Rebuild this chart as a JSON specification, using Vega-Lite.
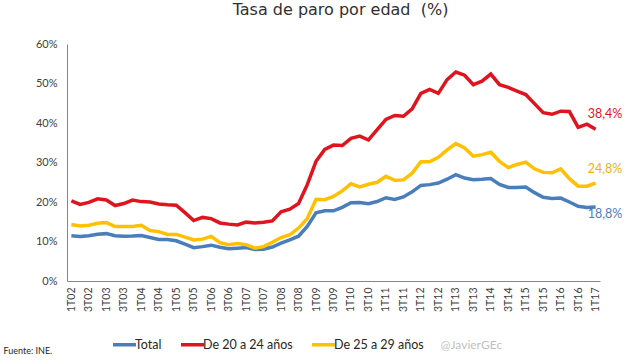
{
"$schema": "https://vega.github.io/schema/vega-lite/v6.json",
"width": 533, "height": 237,
"autosize": {"type": "none"},
"padding": {"left": 67, "top": 44, "right": 28, "bottom": 83},
"background": "white",
"title": {"text": "Tasa de paro por edad \u00a0(%)", "fontSize": 16, "font": "DejaVu Sans", "fontWeight": "normal", "color": "#303030", "anchor": "middle", "frame": "group", "dx": 7, "offset": 20},
"config": {"view": {"stroke": null}, "font": "Lato"},
"data": {"values": [
{"t":"1T02","s":"Total","v":11.45},{"t":"2T02","s":"Total","v":11.28},{"t":"3T02","s":"Total","v":11.44},{"t":"4T02","s":"Total","v":11.82},
{"t":"1T03","s":"Total","v":11.99},{"t":"2T03","s":"Total","v":11.47},{"t":"3T03","s":"Total","v":11.31},{"t":"4T03","s":"Total","v":11.37},
{"t":"1T04","s":"Total","v":11.5},{"t":"2T04","s":"Total","v":11.02},{"t":"3T04","s":"Total","v":10.5},{"t":"4T04","s":"Total","v":10.53},
{"t":"1T05","s":"Total","v":10.19},{"t":"2T05","s":"Total","v":9.33},{"t":"3T05","s":"Total","v":8.42},{"t":"4T05","s":"Total","v":8.7},
{"t":"1T06","s":"Total","v":9.07},{"t":"2T06","s":"Total","v":8.53},{"t":"3T06","s":"Total","v":8.16},{"t":"4T06","s":"Total","v":8.3},
{"t":"1T07","s":"Total","v":8.47},{"t":"2T07","s":"Total","v":7.95},{"t":"3T07","s":"Total","v":8.03},{"t":"4T07","s":"Total","v":8.6},
{"t":"1T08","s":"Total","v":9.6},{"t":"2T08","s":"Total","v":10.44},{"t":"3T08","s":"Total","v":11.33},{"t":"4T08","s":"Total","v":13.79},
{"t":"1T09","s":"Total","v":17.24},{"t":"2T09","s":"Total","v":17.77},{"t":"3T09","s":"Total","v":17.77},{"t":"4T09","s":"Total","v":18.66},
{"t":"1T10","s":"Total","v":19.84},{"t":"2T10","s":"Total","v":19.89},{"t":"3T10","s":"Total","v":19.59},{"t":"4T10","s":"Total","v":20.11},
{"t":"1T11","s":"Total","v":21.08},{"t":"2T11","s":"Total","v":20.64},{"t":"3T11","s":"Total","v":21.28},{"t":"4T11","s":"Total","v":22.56},
{"t":"1T12","s":"Total","v":24.19},{"t":"2T12","s":"Total","v":24.4},{"t":"3T12","s":"Total","v":24.79},{"t":"4T12","s":"Total","v":25.77},
{"t":"1T13","s":"Total","v":26.94},{"t":"2T13","s":"Total","v":26.06},{"t":"3T13","s":"Total","v":25.65},{"t":"4T13","s":"Total","v":25.73},
{"t":"1T14","s":"Total","v":25.93},{"t":"2T14","s":"Total","v":24.47},{"t":"3T14","s":"Total","v":23.67},{"t":"4T14","s":"Total","v":23.7},
{"t":"1T15","s":"Total","v":23.78},{"t":"2T15","s":"Total","v":22.37},{"t":"3T15","s":"Total","v":21.18},{"t":"4T15","s":"Total","v":20.9},
{"t":"1T16","s":"Total","v":21.0},{"t":"2T16","s":"Total","v":20.0},{"t":"3T16","s":"Total","v":18.91},{"t":"4T16","s":"Total","v":18.63},
{"t":"1T17","s":"Total","v":18.75},
{"t":"1T02","s":"De 20 a 24 años","v":20.3},{"t":"2T02","s":"De 20 a 24 años","v":19.4},{"t":"3T02","s":"De 20 a 24 años","v":19.9},{"t":"4T02","s":"De 20 a 24 años","v":20.8},
{"t":"1T03","s":"De 20 a 24 años","v":20.5},{"t":"2T03","s":"De 20 a 24 años","v":19.1},{"t":"3T03","s":"De 20 a 24 años","v":19.6},{"t":"4T03","s":"De 20 a 24 años","v":20.5},
{"t":"1T04","s":"De 20 a 24 años","v":20.1},{"t":"2T04","s":"De 20 a 24 años","v":20.0},{"t":"3T04","s":"De 20 a 24 años","v":19.5},{"t":"4T04","s":"De 20 a 24 años","v":19.3},
{"t":"1T05","s":"De 20 a 24 años","v":19.2},{"t":"2T05","s":"De 20 a 24 años","v":17.3},{"t":"3T05","s":"De 20 a 24 años","v":15.3},{"t":"4T05","s":"De 20 a 24 años","v":16.1},
{"t":"1T06","s":"De 20 a 24 años","v":15.8},{"t":"2T06","s":"De 20 a 24 años","v":14.7},{"t":"3T06","s":"De 20 a 24 años","v":14.4},{"t":"4T06","s":"De 20 a 24 años","v":14.2},
{"t":"1T07","s":"De 20 a 24 años","v":14.9},{"t":"2T07","s":"De 20 a 24 años","v":14.7},{"t":"3T07","s":"De 20 a 24 años","v":14.9},{"t":"4T07","s":"De 20 a 24 años","v":15.2},
{"t":"1T08","s":"De 20 a 24 años","v":17.5},{"t":"2T08","s":"De 20 a 24 años","v":18.2},{"t":"3T08","s":"De 20 a 24 años","v":19.6},{"t":"4T08","s":"De 20 a 24 años","v":24.4},
{"t":"1T09","s":"De 20 a 24 años","v":30.3},{"t":"2T09","s":"De 20 a 24 años","v":33.3},{"t":"3T09","s":"De 20 a 24 años","v":34.4},{"t":"4T09","s":"De 20 a 24 años","v":34.3},
{"t":"1T10","s":"De 20 a 24 años","v":36.1},{"t":"2T10","s":"De 20 a 24 años","v":36.7},{"t":"3T10","s":"De 20 a 24 años","v":35.7},{"t":"4T10","s":"De 20 a 24 años","v":38.3},
{"t":"1T11","s":"De 20 a 24 años","v":40.9},{"t":"2T11","s":"De 20 a 24 años","v":41.9},{"t":"3T11","s":"De 20 a 24 años","v":41.7},{"t":"4T11","s":"De 20 a 24 años","v":43.6},
{"t":"1T12","s":"De 20 a 24 años","v":47.5},{"t":"2T12","s":"De 20 a 24 años","v":48.5},{"t":"3T12","s":"De 20 a 24 años","v":47.5},{"t":"4T12","s":"De 20 a 24 años","v":51.0},
{"t":"1T13","s":"De 20 a 24 años","v":52.9},{"t":"2T13","s":"De 20 a 24 años","v":52.1},{"t":"3T13","s":"De 20 a 24 años","v":49.7},{"t":"4T13","s":"De 20 a 24 años","v":50.6},
{"t":"1T14","s":"De 20 a 24 años","v":52.4},{"t":"2T14","s":"De 20 a 24 años","v":49.7},{"t":"3T14","s":"De 20 a 24 años","v":49.0},{"t":"4T14","s":"De 20 a 24 años","v":48.1},
{"t":"1T15","s":"De 20 a 24 años","v":47.2},{"t":"2T15","s":"De 20 a 24 años","v":44.9},{"t":"3T15","s":"De 20 a 24 años","v":42.6},{"t":"4T15","s":"De 20 a 24 años","v":42.2},
{"t":"1T16","s":"De 20 a 24 años","v":43.0},{"t":"2T16","s":"De 20 a 24 años","v":42.9},{"t":"3T16","s":"De 20 a 24 años","v":38.9},{"t":"4T16","s":"De 20 a 24 años","v":39.7},
{"t":"1T17","s":"De 20 a 24 años","v":38.4},
{"t":"1T02","s":"De 25 a 29 años","v":14.3},{"t":"2T02","s":"De 25 a 29 años","v":13.9},{"t":"3T02","s":"De 25 a 29 años","v":14.1},{"t":"4T02","s":"De 25 a 29 años","v":14.6},
{"t":"1T03","s":"De 25 a 29 años","v":14.8},{"t":"2T03","s":"De 25 a 29 años","v":13.8},{"t":"3T03","s":"De 25 a 29 años","v":13.8},{"t":"4T03","s":"De 25 a 29 años","v":13.8},
{"t":"1T04","s":"De 25 a 29 años","v":14.1},{"t":"2T04","s":"De 25 a 29 años","v":12.8},{"t":"3T04","s":"De 25 a 29 años","v":12.5},{"t":"4T04","s":"De 25 a 29 años","v":11.8},
{"t":"1T05","s":"De 25 a 29 años","v":11.8},{"t":"2T05","s":"De 25 a 29 años","v":11.1},{"t":"3T05","s":"De 25 a 29 años","v":10.4},{"t":"4T05","s":"De 25 a 29 años","v":10.6},
{"t":"1T06","s":"De 25 a 29 años","v":11.3},{"t":"2T06","s":"De 25 a 29 años","v":9.7},{"t":"3T06","s":"De 25 a 29 años","v":9.2},{"t":"4T06","s":"De 25 a 29 años","v":9.5},
{"t":"1T07","s":"De 25 a 29 años","v":9.2},{"t":"2T07","s":"De 25 a 29 años","v":8.3},{"t":"3T07","s":"De 25 a 29 años","v":8.7},{"t":"4T07","s":"De 25 a 29 años","v":9.8},
{"t":"1T08","s":"De 25 a 29 años","v":11.0},{"t":"2T08","s":"De 25 a 29 años","v":11.7},{"t":"3T08","s":"De 25 a 29 años","v":13.4},{"t":"4T08","s":"De 25 a 29 años","v":15.8},
{"t":"1T09","s":"De 25 a 29 años","v":20.7},{"t":"2T09","s":"De 25 a 29 años","v":20.6},{"t":"3T09","s":"De 25 a 29 años","v":21.4},{"t":"4T09","s":"De 25 a 29 años","v":22.8},
{"t":"1T10","s":"De 25 a 29 años","v":24.6},{"t":"2T10","s":"De 25 a 29 años","v":23.8},{"t":"3T10","s":"De 25 a 29 años","v":24.5},{"t":"4T10","s":"De 25 a 29 años","v":25.0},
{"t":"1T11","s":"De 25 a 29 años","v":26.5},{"t":"2T11","s":"De 25 a 29 años","v":25.5},{"t":"3T11","s":"De 25 a 29 años","v":25.6},{"t":"4T11","s":"De 25 a 29 años","v":27.3},
{"t":"1T12","s":"De 25 a 29 años","v":30.2},{"t":"2T12","s":"De 25 a 29 años","v":30.2},{"t":"3T12","s":"De 25 a 29 años","v":31.3},{"t":"4T12","s":"De 25 a 29 años","v":33.2},
{"t":"1T13","s":"De 25 a 29 años","v":34.8},{"t":"2T13","s":"De 25 a 29 años","v":33.7},{"t":"3T13","s":"De 25 a 29 años","v":31.6},{"t":"4T13","s":"De 25 a 29 años","v":32.0},
{"t":"1T14","s":"De 25 a 29 años","v":32.6},{"t":"2T14","s":"De 25 a 29 años","v":30.3},{"t":"3T14","s":"De 25 a 29 años","v":28.7},{"t":"4T14","s":"De 25 a 29 años","v":29.5},
{"t":"1T15","s":"De 25 a 29 años","v":30.1},{"t":"2T15","s":"De 25 a 29 años","v":28.4},{"t":"3T15","s":"De 25 a 29 años","v":27.5},{"t":"4T15","s":"De 25 a 29 años","v":27.4},
{"t":"1T16","s":"De 25 a 29 años","v":28.4},{"t":"2T16","s":"De 25 a 29 años","v":25.9},{"t":"3T16","s":"De 25 a 29 años","v":24.0},{"t":"4T16","s":"De 25 a 29 años","v":24.0},
{"t":"1T17","s":"De 25 a 29 años","v":24.8}
]},
"encoding": {
  "x": {"field": "t", "type": "ordinal",
    "scale": {"type": "point", "padding": 0.5, "domain": ["1T02","2T02","3T02","4T02","1T03","2T03","3T03","4T03","1T04","2T04","3T04","4T04","1T05","2T05","3T05","4T05","1T06","2T06","3T06","4T06","1T07","2T07","3T07","4T07","1T08","2T08","3T08","4T08","1T09","2T09","3T09","4T09","1T10","2T10","3T10","4T10","1T11","2T11","3T11","4T11","1T12","2T12","3T12","4T12","1T13","2T13","3T13","4T13","1T14","2T14","3T14","4T14","1T15","2T15","3T15","4T15","1T16","2T16","3T16","4T16","1T17"]},
    "axis": {"values": ["1T02","3T02","1T03","3T03","1T04","3T04","1T05","3T05","1T06","3T06","1T07","3T07","1T08","3T08","1T09","3T09","1T10","3T10","1T11","3T11","1T12","3T12","1T13","3T13","1T14","3T14","1T15","3T15","1T16","3T16","1T17"],
      "labelAngle": -90, "ticks": false, "labelPadding": 6, "labelFontSize": 10.5, "labelColor": "#404040", "domainColor": "#868686", "grid": false,
      "title": "Fuente: INE.", "titleX": -64, "titleY": 69, "titleAlign": "left", "titleBaseline": "middle", "titleFontSize": 9, "titleFontWeight": "normal", "titleColor": "#262626"}},
  "y": {"field": "v", "type": "quantitative",
    "scale": {"domain": [0, 60], "nice": false},
    "axis": {"values": [0,10,20,30,40,50,60], "labelExpr": "datum.value + '%'", "grid": false, "ticks": false, "labelPadding": 10, "labelFontSize": 11, "labelColor": "#404040", "domainColor": "#868686",
      "title": "@JavierGEc", "titleAngle": 0, "titleX": 373, "titleY": 300, "titleAlign": "left", "titleBaseline": "middle", "titleFontSize": 12, "titleFontWeight": "normal", "titleColor": "#bfbfbf"}}
},
"layer": [
  {"mark": {"type": "line", "strokeWidth": 3.5},
   "encoding": {"color": {"field": "s", "type": "nominal",
     "scale": {"domain": ["Total", "De 20 a 24 años", "De 25 a 29 años"], "range": ["#4a7ebb", "#e0141e", "#ffc000"]},
     "legend": {"orient": "none", "legendX": 44, "legendY": 287, "direction": "horizontal", "title": null, "symbolType": "stroke", "symbolSize": 529, "symbolStrokeWidth": 3.5, "labelFontSize": 12.5, "labelColor": "#262626", "columnPadding": 12, "labelOffset": -3}}}},
  {"transform": [{"filter": "datum.t == '1T17' && datum.s == 'De 20 a 24 años'"}, {"calculate": "replace(format(datum.v, '.1f'), '.', ',') + '%'", "as": "lab"}],
   "mark": {"type": "text", "align": "left", "baseline": "middle", "dx": -8, "dy": -15, "fontSize": 12.5, "color": "#e0141e"},
   "encoding": {"text": {"field": "lab"}}},
  {"transform": [{"filter": "datum.t == '1T17' && datum.s == 'De 25 a 29 años'"}, {"calculate": "replace(format(datum.v, '.1f'), '.', ',') + '%'", "as": "lab"}],
   "mark": {"type": "text", "align": "left", "baseline": "middle", "dx": -8, "dy": -14, "fontSize": 12.5, "color": "#f0b400"},
   "encoding": {"text": {"field": "lab"}}},
  {"transform": [{"filter": "datum.t == '1T17' && datum.s == 'Total'"}, {"calculate": "replace(format(datum.v, '.1f'), '.', ',') + '%'", "as": "lab"}],
   "mark": {"type": "text", "align": "left", "baseline": "middle", "dx": -8, "dy": 7, "fontSize": 12.5, "color": "#4a7ebb"},
   "encoding": {"text": {"field": "lab"}}}
]
}
